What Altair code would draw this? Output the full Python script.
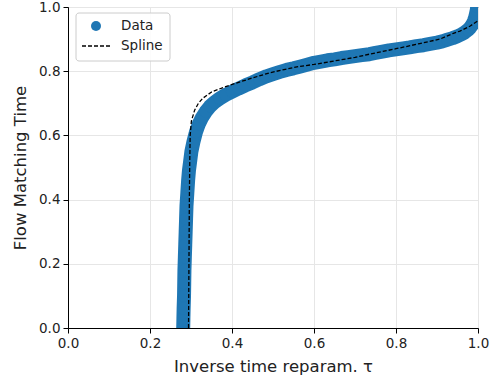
import altair as alt
import pandas as pd

# Data (scatter)
data_tau = [0.281, 0.2815, 0.282, 0.283, 0.2835, 0.284, 0.285, 0.286, 0.287, 0.288,
            0.289, 0.291, 0.293, 0.295, 0.298, 0.301, 0.306, 0.312, 0.319, 0.327,
            0.336, 0.346, 0.357, 0.370, 0.384, 0.400, 0.416, 0.433, 0.450, 0.467,
            0.484, 0.500, 0.517, 0.533, 0.550, 0.565, 0.583, 0.600, 0.617, 0.633,
            0.650, 0.667, 0.683, 0.700, 0.717, 0.735, 0.750, 0.767, 0.783, 0.800,
            0.817, 0.833, 0.850, 0.867, 0.883, 0.900, 0.913, 0.925, 0.938, 0.950,
            0.960, 0.968, 0.975, 0.981, 0.986, 0.990, 0.993, 0.995, 0.997, 0.998, 0.999]
data_t = [0.00, 0.03, 0.06, 0.10, 0.14, 0.18, 0.22, 0.26, 0.30, 0.34,
          0.38, 0.42, 0.46, 0.49, 0.52, 0.55, 0.58, 0.61, 0.635, 0.656,
          0.674, 0.690, 0.703, 0.715, 0.726, 0.736, 0.746, 0.756, 0.765, 0.775,
          0.784, 0.791, 0.798, 0.804, 0.809, 0.814, 0.820, 0.826, 0.830, 0.834,
          0.837, 0.841, 0.844, 0.847, 0.850, 0.853, 0.857, 0.861, 0.865, 0.868,
          0.871, 0.874, 0.878, 0.881, 0.885, 0.889, 0.893, 0.898, 0.903, 0.909,
          0.915, 0.921, 0.928, 0.936, 0.945, 0.956, 0.967, 0.978, 0.990, 1.000, 1.020]

# Spline
spline_tau = [0.294, 0.295, 0.296, 0.297, 0.298, 0.301, 0.309, 0.318, 0.329, 0.350,
              0.380, 0.410, 0.450, 0.492, 0.530, 0.565, 0.600, 0.650, 0.700, 0.735,
              0.800, 0.858, 0.907, 0.940, 0.956, 0.980, 1.000]
spline_t = [0.000, 0.200, 0.400, 0.520, 0.600, 0.645, 0.679, 0.700, 0.716, 0.735,
            0.750, 0.763, 0.779, 0.795, 0.806, 0.815, 0.821, 0.832, 0.843, 0.853,
            0.870, 0.886, 0.900, 0.918, 0.925, 0.940, 0.957]

tick_values = [0.0, 0.2, 0.4, 0.6, 0.8, 1.0]
legend_labels = ["Data", "Spline"]
x_title = "Inverse time reparam. τ"
y_title = "Flow Matching Time"

BLUE = "#1f77b4"
FONT = "DejaVu Sans"

df_data = pd.DataFrame({"tau": data_tau, "t": data_t, "i": range(len(data_tau))})
df_spline = pd.DataFrame({"tau": spline_tau, "t": spline_t, "i": range(len(spline_tau))})
one = pd.DataFrame({"k": [0]})

xs = alt.Scale(domain=[0, 1], nice=False, zero=False)
ys = alt.Scale(domain=[0, 1], nice=False, zero=False)

x_enc = alt.X("tau:Q", scale=xs, title=x_title,
              axis=alt.Axis(values=tick_values, format=".1f", labelFlush=False, titlePadding=9))
y_enc = alt.Y("t:Q", scale=ys, title=y_title,
              axis=alt.Axis(values=tick_values, format=".1f", labelFlush=False, titlePadding=10))

blob = alt.Chart(df_data).mark_line(
    color=BLUE, strokeWidth=14, strokeCap="round", strokeJoin="round", clip=True
).encode(x=x_enc, y=y_enc, order="i:Q")

points = alt.Chart(df_data).mark_circle(
    color=BLUE, size=150, opacity=1, clip=True
).encode(x=x_enc, y=y_enc)

spline = alt.Chart(df_spline).mark_line(
    color="black", strokeDash=[4, 2], strokeWidth=1.3, clip=True
).encode(x=x_enc, y=y_enc, order="i:Q")

leg_box = alt.Chart(one).mark_rect(
    fill="white", fillOpacity=0.85, stroke="#cccccc", strokeWidth=1, cornerRadius=3
).encode(x=alt.value(8), x2=alt.value(102), y=alt.value(6), y2=alt.value(54))

leg_pt = alt.Chart(one).mark_circle(color=BLUE, size=100, opacity=1).encode(
    x=alt.value(28), y=alt.value(19))

leg_rule = alt.Chart(one).mark_rule(
    color="black", strokeDash=[4, 2], strokeWidth=1.3
).encode(x=alt.value(14), x2=alt.value(42), y=alt.value(39))

leg_t1 = alt.Chart(one).mark_text(
    text=legend_labels[0], align="left", baseline="middle", font=FONT, fontSize=13.5, color="#222"
).encode(x=alt.value(53), y=alt.value(19))

leg_t2 = alt.Chart(one).mark_text(
    text=legend_labels[1], align="left", baseline="middle", font=FONT, fontSize=13.5, color="#222"
).encode(x=alt.value(53), y=alt.value(39))

chart = alt.layer(
    blob, points, spline, leg_box, leg_pt, leg_rule, leg_t1, leg_t2
).properties(
    width=410, height=321,
    padding={"left": 68, "top": 7, "right": 14, "bottom": 53},
    autosize=alt.AutoSizeParams(type="none"),
    background="white",
).configure_view(
    stroke="black", strokeWidth=1
).configure_axis(
    domainColor="black", domainWidth=1,
    tickColor="black", tickSize=5, tickWidth=1,
    labelFont=FONT, labelFontSize=13.5, labelColor="#222", labelPadding=3,
    titleFont=FONT, titleFontSize=16.5, titleFontWeight="normal", titleColor="#222",
    gridColor="#e6e6e6", gridWidth=1,
)

chart.save("out.html", embed_options={"renderer": "svg", "actions": False})
